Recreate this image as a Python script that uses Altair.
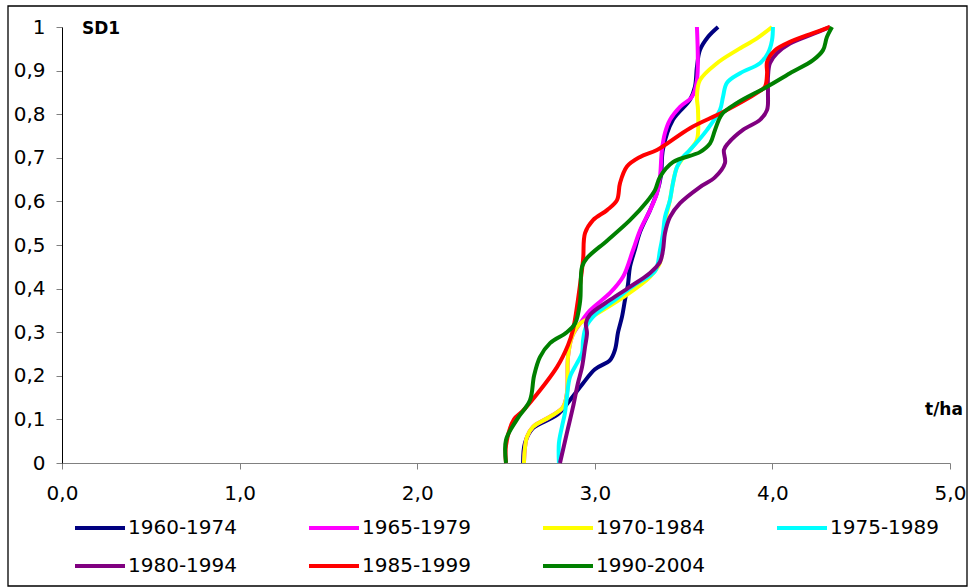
import altair as alt
import pandas as pd

# Rolling 15-year windows and their line colours
SERIES = ["1960-1974", "1965-1979", "1970-1984", "1975-1989",
          "1980-1994", "1985-1999", "1990-2004"]
COLORS = ["#000080", "#FF00FF", "#FFFF00", "#00FFFF",
          "#800080", "#FF0000", "#008000"]

PANEL_LABEL = "SD1"
X_UNIT = "t/ha"
X_TICKS = [0, 1, 2, 3, 4, 5]
Y_TICKS = [0, 0.1, 0.2, 0.3, 0.4, 0.5, 0.6, 0.7, 0.8, 0.9, 1.0]

# Cumulative probability curves: yield (t/ha) against probability
T_1960 = [2.596, 2.607, 2.652, 2.787, 2.860, 2.934, 3.001, 3.086, 3.114, 3.131,
          3.153, 3.170, 3.187, 3.198, 3.226, 3.255, 3.311, 3.350, 3.373, 3.384,
          3.440, 3.536, 3.564, 3.575, 3.592, 3.637, 3.694]
P_1960 = [0, 0.046, 0.08, 0.11, 0.144, 0.183, 0.215, 0.236, 0.26, 0.3,
          0.335, 0.374, 0.41, 0.45, 0.49, 0.53, 0.58, 0.62, 0.66, 0.72,
          0.787, 0.833, 0.863, 0.908, 0.947, 0.977, 1]

T_1965 = [2.601, 2.618, 2.652, 2.748, 2.821, 2.843, 2.849, 2.872, 2.917, 2.973,
          3.086, 3.159, 3.215, 3.255, 3.311, 3.350, 3.367, 3.378, 3.395, 3.423,
          3.480, 3.547, 3.575, 3.575]
P_1965 = [0, 0.06, 0.083, 0.106, 0.128, 0.16, 0.243, 0.29, 0.32, 0.35,
          0.39, 0.427, 0.488, 0.534, 0.58, 0.619, 0.656, 0.718, 0.757, 0.787,
          0.817, 0.84, 0.878, 1]

T_1970 = [2.601, 2.618, 2.652, 2.748, 2.821, 2.843, 2.849, 2.872, 2.917, 2.973,
          3.159, 3.311, 3.367, 3.378, 3.390, 3.401, 3.423, 3.440, 3.463, 3.502,
          3.536, 3.575, 3.581, 3.575, 3.592, 3.688, 3.801, 3.913, 3.998]
P_1970 = [0, 0.06, 0.083, 0.106, 0.128, 0.16, 0.243, 0.29, 0.32, 0.333,
          0.38, 0.427, 0.459, 0.49, 0.53, 0.564, 0.603, 0.642, 0.679, 0.702,
          0.718, 0.741, 0.81, 0.84, 0.878, 0.917, 0.947, 0.974, 1]

T_1975 = [2.798, 2.798, 2.815, 2.832, 2.843, 2.860, 2.900, 2.928, 2.934, 2.950,
          3.001, 3.100, 3.230, 3.339, 3.367, 3.384, 3.395, 3.423, 3.440, 3.463,
          3.497, 3.536, 3.632, 3.705, 3.722, 3.744, 3.818, 3.930, 3.975, 3.998,
          4.003]
P_1975 = [0, 0.046, 0.083, 0.115, 0.152, 0.197, 0.229, 0.252, 0.282, 0.312,
          0.34, 0.37, 0.41, 0.44, 0.488, 0.527, 0.564, 0.603, 0.642, 0.679,
          0.702, 0.718, 0.764, 0.81, 0.84, 0.872, 0.894, 0.917, 0.94, 0.97,
          1]

T_1980 = [2.804, 2.843, 2.877, 2.905, 2.928, 2.945, 2.956, 2.950, 2.973, 3.086,
          3.198, 3.311, 3.367, 3.384, 3.395, 3.423, 3.480, 3.592, 3.676, 3.733,
          3.727, 3.750, 3.834, 3.930, 3.970, 3.975, 3.975, 3.986, 4.026, 4.099,
          4.229, 4.324]
P_1980 = [0, 0.069, 0.128, 0.183, 0.22, 0.266, 0.298, 0.321, 0.34, 0.374,
          0.404, 0.436, 0.461, 0.488, 0.527, 0.564, 0.596, 0.633, 0.655, 0.688,
          0.718, 0.733, 0.764, 0.787, 0.81, 0.849, 0.885, 0.917, 0.94, 0.962,
          0.984, 1]

T_1985 = [2.50, 2.50, 2.545, 2.596, 2.787, 2.849, 2.877, 2.905, 2.934, 2.945,
          2.990, 3.069, 3.125, 3.142, 3.181, 3.255, 3.350, 3.536, 3.722, 3.913,
          3.958, 3.970, 3.970, 4.015, 4.099, 4.229, 4.324]
P_1985 = [0, 0.04, 0.1, 0.12, 0.22, 0.27, 0.305, 0.374, 0.466, 0.527,
          0.557, 0.58, 0.603, 0.642, 0.68, 0.702, 0.718, 0.768, 0.805, 0.849,
          0.863, 0.894, 0.92, 0.947, 0.966, 0.986, 1]

T_1990 = [2.50, 2.50, 2.562, 2.635, 2.658, 2.691, 2.748, 2.843, 2.889, 2.917,
          2.928, 2.956, 3.069, 3.198, 3.294, 3.339, 3.367, 3.440, 3.592, 3.649,
          3.677, 3.716, 3.801, 3.970, 4.099, 4.229, 4.285, 4.307, 4.336]
P_1990 = [0, 0.053, 0.1, 0.144, 0.2, 0.243, 0.275, 0.3, 0.32, 0.37,
          0.45, 0.47, 0.51, 0.557, 0.6, 0.626, 0.656, 0.69, 0.713, 0.733,
          0.764, 0.8, 0.826, 0.863, 0.894, 0.924, 0.947, 0.977, 1]

CURVES = [(T_1960, P_1960), (T_1965, P_1965), (T_1970, P_1970), (T_1975, P_1975),
          (T_1980, P_1980), (T_1985, P_1985), (T_1990, P_1990)]

rows = []
for name, (ts, ps) in zip(SERIES, CURVES):
    for t, p in zip(ts, ps):
        rows.append({"series": name, "t": t, "p": p})
df = pd.DataFrame(rows)

FONT = "DejaVu Sans"

lines = alt.Chart(df).mark_line(strokeWidth=4, interpolate="catmull-rom").encode(
    x=alt.X("t:Q",
            scale=alt.Scale(domain=[0, 5], nice=False, zero=False),
            axis=alt.Axis(title=None, values=X_TICKS, grid=False,
                          labelExpr="replace(format(datum.value, '.1f'), '.', ',')",
                          domainColor="#808080", tickColor="#808080",
                          tickSize=6, labelPadding=14, labelFlush=False,
                          labelFont=FONT, labelFontSize=20, labelColor="black")),
    y=alt.Y("p:Q",
            scale=alt.Scale(domain=[0, 1], nice=False),
            axis=alt.Axis(title=None, values=Y_TICKS, grid=False,
                          labelExpr="replace(format(datum.value, '.1~f'), '.', ',')",
                          domainColor="black", tickColor="#808080",
                          tickSize=6, labelPadding=11, labelFlush=False,
                          labelFont=FONT, labelFontSize=20, labelColor="black")),
    color=alt.Color("series:N",
                    scale=alt.Scale(domain=SERIES, range=COLORS),
                    legend=alt.Legend(orient="none", legendX=8, legendY=491,
                                      direction="horizontal", columns=4,
                                      gridAlign="all",
                                      title=None, padding=0,
                                      symbolType="M-1,0H9", symbolSize=100,
                                      symbolStrokeWidth=4, labelOffset=38,
                                      columnPadding=63, rowPadding=18,
                                      labelFont=FONT, labelFontSize=20,
                                      labelColor="black", labelLimit=300)),
    order=alt.Order("p:Q"),
)

frame = alt.Chart(pd.DataFrame({"k": [0]})).mark_rect(
    fillOpacity=0, stroke="black", strokeWidth=1.3
).encode(x=alt.value(-54), x2=alt.value(905), y=alt.value(-21), y2=alt.value(559))

panel = alt.Chart(pd.DataFrame({"label": [PANEL_LABEL]})).mark_text(
    font=FONT, fontSize=17, fontWeight="bold", align="left", baseline="middle", color="black"
).encode(text="label:N", x=alt.value(20), y=alt.value(2))

unit = alt.Chart(pd.DataFrame({"label": [X_UNIT]})).mark_text(
    font=FONT, fontSize=17, fontWeight="bold", align="left", baseline="middle", color="black"
).encode(text="label:N", x=alt.value(863), y=alt.value(383))

chart = alt.layer(frame, lines, panel, unit).properties(
    width=888, height=436,
    autosize=alt.AutoSizeParams(type="none"),
    padding={"left": 62, "top": 27, "right": 20, "bottom": 125},
).configure_view(strokeWidth=0)

chart.save("out.html", embed_options={"renderer": "svg", "actions": False})
